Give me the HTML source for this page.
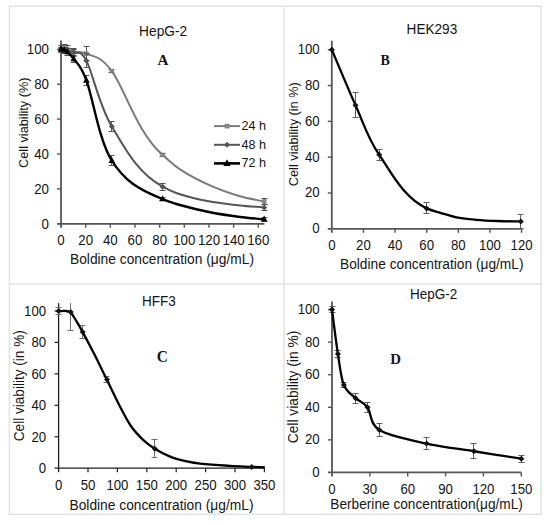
<!DOCTYPE html>
<html><head><meta charset="utf-8"><style>
html,body{margin:0;padding:0;background:#fff;}
svg{display:block;}
text{font-family:"Liberation Sans", sans-serif;fill:#141414;}
</style></head><body>
<svg width="550" height="525" viewBox="0 0 550 525">
<rect width="550" height="525" fill="#fff"/>
<g stroke="#e2e2e2" stroke-width="1.5" fill="none">
<rect x="9.4" y="6.3" width="531.7" height="507.9"/>
<line x1="284" y1="6.3" x2="284" y2="514.2"/>
<line x1="9.4" y1="284.0" x2="541.1" y2="284.0"/>
</g>
<line x1="61.00" y1="40.58" x2="61.00" y2="227.80" stroke="#555555" stroke-width="1.8"/>
<line x1="57.00" y1="223.80" x2="264.45" y2="223.80" stroke="#555555" stroke-width="1.8"/>
<text transform="translate(49.00,228.80) scale(1,1.050)" font-size="13.3" text-anchor="end">0</text>
<line x1="57.00" y1="188.90" x2="61.00" y2="188.90" stroke="#555555" stroke-width="1.4"/>
<text transform="translate(49.00,193.90) scale(1,1.050)" font-size="13.3" text-anchor="end">20</text>
<line x1="57.00" y1="154.00" x2="61.00" y2="154.00" stroke="#555555" stroke-width="1.4"/>
<text transform="translate(49.00,159.00) scale(1,1.050)" font-size="13.3" text-anchor="end">40</text>
<line x1="57.00" y1="119.10" x2="61.00" y2="119.10" stroke="#555555" stroke-width="1.4"/>
<text transform="translate(49.00,124.10) scale(1,1.050)" font-size="13.3" text-anchor="end">60</text>
<line x1="57.00" y1="84.20" x2="61.00" y2="84.20" stroke="#555555" stroke-width="1.4"/>
<text transform="translate(49.00,89.20) scale(1,1.050)" font-size="13.3" text-anchor="end">80</text>
<line x1="57.00" y1="49.30" x2="61.00" y2="49.30" stroke="#555555" stroke-width="1.4"/>
<text transform="translate(49.00,54.30) scale(1,1.050)" font-size="13.3" text-anchor="end">100</text>
<text transform="translate(61.00,244.60) scale(1,1.050)" font-size="13.3" text-anchor="middle">0</text>
<line x1="85.66" y1="223.80" x2="85.66" y2="227.80" stroke="#555555" stroke-width="1.4"/>
<text transform="translate(85.66,244.60) scale(1,1.050)" font-size="13.3" text-anchor="middle">20</text>
<line x1="110.32" y1="223.80" x2="110.32" y2="227.80" stroke="#555555" stroke-width="1.4"/>
<text transform="translate(110.32,244.60) scale(1,1.050)" font-size="13.3" text-anchor="middle">40</text>
<line x1="134.98" y1="223.80" x2="134.98" y2="227.80" stroke="#555555" stroke-width="1.4"/>
<text transform="translate(134.98,244.60) scale(1,1.050)" font-size="13.3" text-anchor="middle">60</text>
<line x1="159.64" y1="223.80" x2="159.64" y2="227.80" stroke="#555555" stroke-width="1.4"/>
<text transform="translate(159.64,244.60) scale(1,1.050)" font-size="13.3" text-anchor="middle">80</text>
<line x1="184.30" y1="223.80" x2="184.30" y2="227.80" stroke="#555555" stroke-width="1.4"/>
<text transform="translate(184.30,244.60) scale(1,1.050)" font-size="13.3" text-anchor="middle">100</text>
<line x1="208.96" y1="223.80" x2="208.96" y2="227.80" stroke="#555555" stroke-width="1.4"/>
<text transform="translate(208.96,244.60) scale(1,1.050)" font-size="13.3" text-anchor="middle">120</text>
<line x1="233.62" y1="223.80" x2="233.62" y2="227.80" stroke="#555555" stroke-width="1.4"/>
<text transform="translate(233.62,244.60) scale(1,1.050)" font-size="13.3" text-anchor="middle">140</text>
<line x1="258.28" y1="223.80" x2="258.28" y2="227.80" stroke="#555555" stroke-width="1.4"/>
<text transform="translate(258.28,244.60) scale(1,1.050)" font-size="13.3" text-anchor="middle">160</text>
<text transform="translate(139.10,35.60) scale(1,1.050)" font-size="13.75">HepG-2</text>
<text transform="translate(157.40,65.40) scale(0.970,1)" font-size="15.6" style='font-family:"Liberation Serif", serif;font-weight:bold'>A</text>
<text transform="translate(70.00,264.40) scale(1,1.050)" font-size="13.7" textLength="184.00" lengthAdjust="spacingAndGlyphs">Boldine concentration (μg/mL)</text>
<text transform="translate(28.00,122.70) rotate(-90)" font-size="12.8" text-anchor="middle" textLength="90.50" lengthAdjust="spacingAndGlyphs">Cell viability (%)</text>
<path d="M58.50,45.50 h6 M61.50,45.50 V52.50 M58.50,52.50 h6" stroke="#555" stroke-width="1" fill="none"/>
<path d="M61.50,44.50 h6 M64.50,44.50 V51.50 M61.50,51.50 h6" stroke="#555" stroke-width="1" fill="none"/>
<path d="M64.50,45.50 h6 M67.50,45.50 V52.50 M64.50,52.50 h6" stroke="#555" stroke-width="1" fill="none"/>
<path d="M70.50,48.50 h6 M73.50,48.50 V55.50 M70.50,55.50 h6" stroke="#555" stroke-width="1" fill="none"/>
<path d="M83.50,46.50 h6 M86.50,46.50 V60.50 M83.50,60.50 h6" stroke="#555" stroke-width="1" fill="none"/>
<path d="M108.50,69.50 h6 M111.50,69.50 V72.50 M108.50,72.50 h6" stroke="#555" stroke-width="1" fill="none"/>
<path d="M159.50,153.50 h6 M162.50,153.50 V156.50 M159.50,156.50 h6" stroke="#555" stroke-width="1" fill="none"/>
<path d="M261.50,198.50 h6 M264.50,198.50 V204.50 M261.50,204.50 h6" stroke="#555" stroke-width="1" fill="none"/>
<path d="M61.00,49.30 C61.53,49.01 63.16,47.56 64.21,47.56 C65.25,47.56 65.71,48.57 67.29,49.30 C68.87,50.03 70.51,51.19 73.70,51.92 C76.89,52.64 80.05,50.46 86.40,53.66 C92.75,56.86 99.10,54.24 111.80,71.11 C124.50,87.98 137.20,133.15 162.60,154.87 C168.40,159.83 174.20,165.56 180.00,169.30 C190.00,175.74 200.00,180.90 210.00,185.40 C220.00,189.90 230.00,193.34 240.00,196.30 C248.07,198.69 256.13,199.74 264.20,201.46" stroke="#7a7a7a" stroke-width="2.0" fill="none" stroke-linejoin="round"/>
<rect x="59.30" y="47.60" width="3.40" height="3.40" fill="#8c8c8c" stroke="#7a7a7a" stroke-width="1"/>
<rect x="62.51" y="45.86" width="3.40" height="3.40" fill="#8c8c8c" stroke="#7a7a7a" stroke-width="1"/>
<rect x="65.59" y="47.60" width="3.40" height="3.40" fill="#8c8c8c" stroke="#7a7a7a" stroke-width="1"/>
<rect x="72.00" y="50.22" width="3.40" height="3.40" fill="#8c8c8c" stroke="#7a7a7a" stroke-width="1"/>
<rect x="84.70" y="51.96" width="3.40" height="3.40" fill="#8c8c8c" stroke="#7a7a7a" stroke-width="1"/>
<rect x="110.10" y="69.41" width="3.40" height="3.40" fill="#8c8c8c" stroke="#7a7a7a" stroke-width="1"/>
<rect x="160.90" y="153.17" width="3.40" height="3.40" fill="#8c8c8c" stroke="#7a7a7a" stroke-width="1"/>
<rect x="262.50" y="199.76" width="3.40" height="3.40" fill="#8c8c8c" stroke="#7a7a7a" stroke-width="1"/>
<path d="M58.50,47.50 h6 M61.50,47.50 V51.50 M58.50,51.50 h6" stroke="#555" stroke-width="1" fill="none"/>
<path d="M61.50,48.50 h6 M64.50,48.50 V53.50 M61.50,53.50 h6" stroke="#555" stroke-width="1" fill="none"/>
<path d="M64.50,48.50 h6 M67.50,48.50 V53.50 M64.50,53.50 h6" stroke="#555" stroke-width="1" fill="none"/>
<path d="M70.50,49.50 h6 M73.50,49.50 V56.50 M70.50,56.50 h6" stroke="#555" stroke-width="1" fill="none"/>
<path d="M83.50,53.50 h6 M86.50,53.50 V67.50 M83.50,67.50 h6" stroke="#555" stroke-width="1" fill="none"/>
<path d="M108.50,121.50 h6 M111.50,121.50 V131.50 M108.50,131.50 h6" stroke="#555" stroke-width="1" fill="none"/>
<path d="M159.50,183.50 h6 M162.50,183.50 V190.50 M159.50,190.50 h6" stroke="#555" stroke-width="1" fill="none"/>
<path d="M261.50,204.50 h6 M264.50,204.50 V210.50 M261.50,210.50 h6" stroke="#555" stroke-width="1" fill="none"/>
<path d="M61.00,49.30 C61.53,49.59 63.16,50.75 64.21,51.05 C65.25,51.34 65.71,50.75 67.29,51.05 C68.87,51.34 70.51,51.19 73.70,52.79 C76.89,54.39 80.05,48.37 86.40,60.64 C92.75,72.92 99.10,105.43 111.80,126.43 C124.50,147.43 137.20,173.14 162.60,186.63 C168.40,189.71 174.20,192.47 180.00,194.30 C190.00,197.46 200.00,199.75 210.00,201.60 C220.00,203.45 230.00,204.33 240.00,205.40 C248.07,206.26 256.13,206.73 264.20,207.40" stroke="#555555" stroke-width="2.0" fill="none" stroke-linejoin="round"/>
<path d="M61.00,46.30 l3.00,3.00 l-3.00,3.00 l-3.00,-3.00 z" fill="#555555"/>
<path d="M64.21,48.05 l3.00,3.00 l-3.00,3.00 l-3.00,-3.00 z" fill="#555555"/>
<path d="M67.29,48.05 l3.00,3.00 l-3.00,3.00 l-3.00,-3.00 z" fill="#555555"/>
<path d="M73.70,49.79 l3.00,3.00 l-3.00,3.00 l-3.00,-3.00 z" fill="#555555"/>
<path d="M86.40,57.64 l3.00,3.00 l-3.00,3.00 l-3.00,-3.00 z" fill="#555555"/>
<path d="M111.80,123.43 l3.00,3.00 l-3.00,3.00 l-3.00,-3.00 z" fill="#555555"/>
<path d="M162.60,183.63 l3.00,3.00 l-3.00,3.00 l-3.00,-3.00 z" fill="#555555"/>
<path d="M264.20,204.40 l3.00,3.00 l-3.00,3.00 l-3.00,-3.00 z" fill="#555555"/>
<path d="M58.50,47.50 h6 M61.50,47.50 V51.50 M58.50,51.50 h6" stroke="#555" stroke-width="1" fill="none"/>
<path d="M61.50,47.50 h6 M64.50,47.50 V52.50 M61.50,52.50 h6" stroke="#555" stroke-width="1" fill="none"/>
<path d="M64.50,48.50 h6 M67.50,48.50 V55.50 M64.50,55.50 h6" stroke="#555" stroke-width="1" fill="none"/>
<path d="M70.50,55.50 h6 M73.50,55.50 V62.50 M70.50,62.50 h6" stroke="#555" stroke-width="1" fill="none"/>
<path d="M83.50,75.50 h6 M86.50,75.50 V85.50 M83.50,85.50 h6" stroke="#555" stroke-width="1" fill="none"/>
<path d="M108.50,155.50 h6 M111.50,155.50 V165.50 M108.50,165.50 h6" stroke="#555" stroke-width="1" fill="none"/>
<path d="M159.50,197.50 h6 M162.50,197.50 V200.50 M159.50,200.50 h6" stroke="#555" stroke-width="1" fill="none"/>
<path d="M261.50,217.50 h6 M264.50,217.50 V221.50 M261.50,221.50 h6" stroke="#555" stroke-width="1" fill="none"/>
<path d="M61.00,49.30 C61.53,49.45 63.16,49.74 64.21,50.17 C65.25,50.61 65.71,50.46 67.29,51.92 C68.87,53.37 70.51,54.16 73.70,58.90 C76.89,63.64 80.05,63.41 86.40,80.36 C92.75,97.32 99.10,140.85 111.80,160.63 C124.50,180.41 137.20,189.25 162.60,199.02 C168.40,201.25 174.20,203.38 180.00,205.00 C190.00,207.80 200.00,210.30 210.00,212.30 C220.00,214.30 230.00,215.72 240.00,217.00 C248.07,218.04 256.13,218.51 264.20,219.26" stroke="#000000" stroke-width="2.4" fill="none" stroke-linejoin="round"/>
<path d="M61.00,45.51 l3.30,6.10 h-6.60 z" fill="#000000"/>
<path d="M64.21,46.38 l3.30,6.10 h-6.60 z" fill="#000000"/>
<path d="M67.29,48.12 l3.30,6.10 h-6.60 z" fill="#000000"/>
<path d="M73.70,55.10 l3.30,6.10 h-6.60 z" fill="#000000"/>
<path d="M86.40,76.57 l3.30,6.10 h-6.60 z" fill="#000000"/>
<path d="M111.80,156.84 l3.30,6.10 h-6.60 z" fill="#000000"/>
<path d="M162.60,195.23 l3.30,6.10 h-6.60 z" fill="#000000"/>
<path d="M264.20,215.47 l3.30,6.10 h-6.60 z" fill="#000000"/>
<line x1="331.80" y1="40.75" x2="331.80" y2="232.80" stroke="#555555" stroke-width="1.8"/>
<line x1="327.80" y1="228.80" x2="522.53" y2="228.80" stroke="#555555" stroke-width="1.8"/>
<text transform="translate(319.70,233.26) scale(1,1.050)" font-size="13.2" text-anchor="end">0</text>
<line x1="327.80" y1="192.98" x2="331.80" y2="192.98" stroke="#555555" stroke-width="1.4"/>
<text transform="translate(319.70,197.44) scale(1,1.050)" font-size="13.2" text-anchor="end">20</text>
<line x1="327.80" y1="157.16" x2="331.80" y2="157.16" stroke="#555555" stroke-width="1.4"/>
<text transform="translate(319.70,161.62) scale(1,1.050)" font-size="13.2" text-anchor="end">40</text>
<line x1="327.80" y1="121.34" x2="331.80" y2="121.34" stroke="#555555" stroke-width="1.4"/>
<text transform="translate(319.70,125.80) scale(1,1.050)" font-size="13.2" text-anchor="end">60</text>
<line x1="327.80" y1="85.52" x2="331.80" y2="85.52" stroke="#555555" stroke-width="1.4"/>
<text transform="translate(319.70,89.98) scale(1,1.050)" font-size="13.2" text-anchor="end">80</text>
<line x1="327.80" y1="49.70" x2="331.80" y2="49.70" stroke="#555555" stroke-width="1.4"/>
<text transform="translate(319.70,54.16) scale(1,1.050)" font-size="13.2" text-anchor="end">100</text>
<text transform="translate(331.80,249.80) scale(1,1.050)" font-size="13.2" text-anchor="middle">0</text>
<line x1="363.43" y1="228.80" x2="363.43" y2="232.80" stroke="#555555" stroke-width="1.4"/>
<text transform="translate(363.43,249.80) scale(1,1.050)" font-size="13.2" text-anchor="middle">20</text>
<line x1="395.06" y1="228.80" x2="395.06" y2="232.80" stroke="#555555" stroke-width="1.4"/>
<text transform="translate(395.06,249.80) scale(1,1.050)" font-size="13.2" text-anchor="middle">40</text>
<line x1="426.69" y1="228.80" x2="426.69" y2="232.80" stroke="#555555" stroke-width="1.4"/>
<text transform="translate(426.69,249.80) scale(1,1.050)" font-size="13.2" text-anchor="middle">60</text>
<line x1="458.32" y1="228.80" x2="458.32" y2="232.80" stroke="#555555" stroke-width="1.4"/>
<text transform="translate(458.32,249.80) scale(1,1.050)" font-size="13.2" text-anchor="middle">80</text>
<line x1="489.95" y1="228.80" x2="489.95" y2="232.80" stroke="#555555" stroke-width="1.4"/>
<text transform="translate(489.95,249.80) scale(1,1.050)" font-size="13.2" text-anchor="middle">100</text>
<line x1="521.58" y1="228.80" x2="521.58" y2="232.80" stroke="#555555" stroke-width="1.4"/>
<text transform="translate(521.58,249.80) scale(1,1.050)" font-size="13.2" text-anchor="middle">120</text>
<text transform="translate(406.60,33.80) scale(1,1.050)" font-size="13.6">HEK293</text>
<text transform="translate(380.60,65.00) scale(0.930,1)" font-size="15" style='font-family:"Liberation Serif", serif;font-weight:bold'>B</text>
<text transform="translate(340.00,268.90) scale(1,1.050)" font-size="13.7" textLength="183.50" lengthAdjust="spacingAndGlyphs">Boldine concentration (μg/mL)</text>
<text transform="translate(298.00,134.20) rotate(-90)" font-size="13.3" text-anchor="middle" textLength="104.00" lengthAdjust="spacingAndGlyphs">Cell viability (in %)</text>
<path d="M352.50,92.50 h6 M355.50,92.50 V117.50 M352.50,117.50 h6" stroke="#5e5e5e" stroke-width="1" fill="none"/>
<path d="M376.50,149.50 h6 M379.50,149.50 V160.50 M376.50,160.50 h6" stroke="#5e5e5e" stroke-width="1" fill="none"/>
<path d="M423.50,202.50 h6 M426.50,202.50 V213.50 M423.50,213.50 h6" stroke="#5e5e5e" stroke-width="1" fill="none"/>
<path d="M517.50,214.50 h6 M520.50,214.50 V228.50 M517.50,228.50 h6" stroke="#5e5e5e" stroke-width="1" fill="none"/>
<path d="M331.80,49.70 C335.75,58.95 347.62,87.70 355.52,105.22 C363.43,122.74 367.38,137.64 379.25,154.83 C391.11,172.03 403.10,197.28 426.69,208.38 C431.23,210.52 435.76,211.45 440.30,212.80 C446.20,214.56 452.10,216.54 458.00,217.70 C464.00,218.88 470.00,219.31 476.00,219.80 C483.33,220.41 490.67,220.73 498.00,221.00 C505.60,221.28 513.19,221.30 520.79,221.46" stroke="#000000" stroke-width="2.3" fill="none" stroke-linejoin="round"/>
<path d="M331.80,46.70 l3.00,3.00 l-3.00,3.00 l-3.00,-3.00 z" fill="#111"/>
<path d="M355.52,102.22 l3.00,3.00 l-3.00,3.00 l-3.00,-3.00 z" fill="#111"/>
<path d="M379.25,151.83 l3.00,3.00 l-3.00,3.00 l-3.00,-3.00 z" fill="#111"/>
<path d="M426.69,205.38 l3.00,3.00 l-3.00,3.00 l-3.00,-3.00 z" fill="#111"/>
<path d="M520.79,218.46 l3.00,3.00 l-3.00,3.00 l-3.00,-3.00 z" fill="#111"/>
<line x1="58.60" y1="303.14" x2="58.60" y2="472.20" stroke="#1c1c1c" stroke-width="1.3"/>
<line x1="54.60" y1="468.20" x2="264.40" y2="468.20" stroke="#1c1c1c" stroke-width="1.3"/>
<text transform="translate(46.10,473.16) scale(1,1.050)" font-size="13.2" text-anchor="end">0</text>
<line x1="54.60" y1="436.76" x2="58.60" y2="436.76" stroke="#1c1c1c" stroke-width="1.2"/>
<text transform="translate(46.10,441.72) scale(1,1.050)" font-size="13.2" text-anchor="end">20</text>
<line x1="54.60" y1="405.32" x2="58.60" y2="405.32" stroke="#1c1c1c" stroke-width="1.2"/>
<text transform="translate(46.10,410.28) scale(1,1.050)" font-size="13.2" text-anchor="end">40</text>
<line x1="54.60" y1="373.88" x2="58.60" y2="373.88" stroke="#1c1c1c" stroke-width="1.2"/>
<text transform="translate(46.10,378.84) scale(1,1.050)" font-size="13.2" text-anchor="end">60</text>
<line x1="54.60" y1="342.44" x2="58.60" y2="342.44" stroke="#1c1c1c" stroke-width="1.2"/>
<text transform="translate(46.10,347.40) scale(1,1.050)" font-size="13.2" text-anchor="end">80</text>
<line x1="54.60" y1="311.00" x2="58.60" y2="311.00" stroke="#1c1c1c" stroke-width="1.2"/>
<text transform="translate(46.10,315.96) scale(1,1.050)" font-size="13.2" text-anchor="end">100</text>
<text transform="translate(58.60,489.80) scale(1,1.050)" font-size="13.2" text-anchor="middle">0</text>
<line x1="88.00" y1="468.20" x2="88.00" y2="472.20" stroke="#1c1c1c" stroke-width="1.2"/>
<text transform="translate(88.00,489.80) scale(1,1.050)" font-size="13.2" text-anchor="middle">50</text>
<line x1="117.40" y1="468.20" x2="117.40" y2="472.20" stroke="#1c1c1c" stroke-width="1.2"/>
<text transform="translate(117.40,489.80) scale(1,1.050)" font-size="13.2" text-anchor="middle">100</text>
<line x1="146.80" y1="468.20" x2="146.80" y2="472.20" stroke="#1c1c1c" stroke-width="1.2"/>
<text transform="translate(146.80,489.80) scale(1,1.050)" font-size="13.2" text-anchor="middle">150</text>
<line x1="176.20" y1="468.20" x2="176.20" y2="472.20" stroke="#1c1c1c" stroke-width="1.2"/>
<text transform="translate(176.20,489.80) scale(1,1.050)" font-size="13.2" text-anchor="middle">200</text>
<line x1="205.60" y1="468.20" x2="205.60" y2="472.20" stroke="#1c1c1c" stroke-width="1.2"/>
<text transform="translate(205.60,489.80) scale(1,1.050)" font-size="13.2" text-anchor="middle">250</text>
<line x1="235.00" y1="468.20" x2="235.00" y2="472.20" stroke="#1c1c1c" stroke-width="1.2"/>
<text transform="translate(235.00,489.80) scale(1,1.050)" font-size="13.2" text-anchor="middle">300</text>
<line x1="264.40" y1="468.20" x2="264.40" y2="472.20" stroke="#1c1c1c" stroke-width="1.2"/>
<text transform="translate(264.40,489.80) scale(1,1.050)" font-size="13.2" text-anchor="middle">350</text>
<text transform="translate(142.00,305.50) scale(1,1.050)" font-size="13.5">HFF3</text>
<text transform="translate(156.70,362.30) scale(0.950,1)" font-size="16.2" style='font-family:"Liberation Serif", serif;font-weight:bold'>C</text>
<text transform="translate(69.50,509.60) scale(1,1.050)" font-size="13.7" textLength="184.00" lengthAdjust="spacingAndGlyphs">Boldine concentration (μg/mL)</text>
<text transform="translate(24.30,385.70) rotate(-90)" font-size="14.0" text-anchor="middle" textLength="111.00" lengthAdjust="spacingAndGlyphs">Cell viability (in %)</text>
<path d="M55.50,307.50 h6 M58.50,307.50 V314.50 M55.50,314.50 h6" stroke="#707070" stroke-width="1" fill="none"/>
<path d="M70.50,303.14 V330.50 M67.50,330.50 h6" stroke="#707070" stroke-width="1" fill="none"/>
<path d="M79.50,325.50 h6 M82.50,325.50 V338.50 M79.50,338.50 h6" stroke="#707070" stroke-width="1" fill="none"/>
<path d="M103.50,376.50 h6 M106.50,376.50 V382.50 M103.50,382.50 h6" stroke="#707070" stroke-width="1" fill="none"/>
<path d="M151.50,439.50 h6 M154.50,439.50 V457.50 M151.50,457.50 h6" stroke="#707070" stroke-width="1" fill="none"/>
<path d="M248.50,466.50 h6 M251.50,466.50 V467.50 M248.50,467.50 h6" stroke="#707070" stroke-width="1" fill="none"/>
<path d="M58.60,311.20 C60.57,311.20 62.53,310.67 64.50,310.90 C66.57,311.14 68.63,310.90 70.70,312.60 C72.40,314.00 74.10,317.44 75.80,320.20 C78.10,323.94 80.40,327.88 82.70,332.10 C86.50,339.08 90.30,346.31 94.10,353.80 C98.33,362.14 102.57,370.96 106.80,379.60 C110.77,387.69 114.73,396.36 118.70,404.00 C122.77,411.83 126.83,420.03 130.90,426.00 C134.97,431.97 139.03,435.94 143.10,439.80 C147.00,443.50 150.90,446.28 154.80,448.70 C160.10,451.98 165.40,454.72 170.70,456.90 C175.27,458.78 179.83,459.86 184.40,460.90 C189.60,462.09 194.80,463.03 200.00,463.60 C210.00,464.70 220.00,465.28 230.00,465.90 C237.23,466.35 244.47,466.51 251.70,466.80 C256.10,466.98 260.50,467.13 264.90,467.30" stroke="#000000" stroke-width="2.3" fill="none" stroke-linejoin="round"/>
<path d="M58.60,308.00 l3.00,3.00 l-3.00,3.00 l-3.00,-3.00 z" fill="#111"/>
<path d="M70.71,308.94 l3.00,3.00 l-3.00,3.00 l-3.00,-3.00 z" fill="#111"/>
<path d="M82.71,328.91 l3.00,3.00 l-3.00,3.00 l-3.00,-3.00 z" fill="#111"/>
<path d="M106.99,376.54 l3.00,3.00 l-3.00,3.00 l-3.00,-3.00 z" fill="#111"/>
<path d="M154.80,445.71 l3.00,3.00 l-3.00,3.00 l-3.00,-3.00 z" fill="#111"/>
<path d="M251.70,463.94 l3.00,3.00 l-3.00,3.00 l-3.00,-3.00 z" fill="#111"/>
<line x1="332.00" y1="301.46" x2="332.00" y2="476.40" stroke="#555555" stroke-width="1.8"/>
<line x1="328.00" y1="472.40" x2="521.30" y2="472.40" stroke="#555555" stroke-width="1.8"/>
<text transform="translate(319.70,476.86) scale(1,1.050)" font-size="13.2" text-anchor="end">0</text>
<line x1="328.00" y1="439.84" x2="332.00" y2="439.84" stroke="#555555" stroke-width="1.4"/>
<text transform="translate(319.70,444.30) scale(1,1.050)" font-size="13.2" text-anchor="end">20</text>
<line x1="328.00" y1="407.28" x2="332.00" y2="407.28" stroke="#555555" stroke-width="1.4"/>
<text transform="translate(319.70,411.74) scale(1,1.050)" font-size="13.2" text-anchor="end">40</text>
<line x1="328.00" y1="374.72" x2="332.00" y2="374.72" stroke="#555555" stroke-width="1.4"/>
<text transform="translate(319.70,379.18) scale(1,1.050)" font-size="13.2" text-anchor="end">60</text>
<line x1="328.00" y1="342.16" x2="332.00" y2="342.16" stroke="#555555" stroke-width="1.4"/>
<text transform="translate(319.70,346.62) scale(1,1.050)" font-size="13.2" text-anchor="end">80</text>
<line x1="328.00" y1="309.60" x2="332.00" y2="309.60" stroke="#555555" stroke-width="1.4"/>
<text transform="translate(319.70,314.06) scale(1,1.050)" font-size="13.2" text-anchor="end">100</text>
<text transform="translate(332.00,493.90) scale(1,1.050)" font-size="13.2" text-anchor="middle">0</text>
<line x1="369.86" y1="472.40" x2="369.86" y2="476.40" stroke="#555555" stroke-width="1.4"/>
<text transform="translate(369.86,493.90) scale(1,1.050)" font-size="13.2" text-anchor="middle">30</text>
<line x1="407.72" y1="472.40" x2="407.72" y2="476.40" stroke="#555555" stroke-width="1.4"/>
<text transform="translate(407.72,493.90) scale(1,1.050)" font-size="13.2" text-anchor="middle">60</text>
<line x1="445.58" y1="472.40" x2="445.58" y2="476.40" stroke="#555555" stroke-width="1.4"/>
<text transform="translate(445.58,493.90) scale(1,1.050)" font-size="13.2" text-anchor="middle">90</text>
<line x1="483.44" y1="472.40" x2="483.44" y2="476.40" stroke="#555555" stroke-width="1.4"/>
<text transform="translate(483.44,493.90) scale(1,1.050)" font-size="13.2" text-anchor="middle">120</text>
<line x1="521.30" y1="472.40" x2="521.30" y2="476.40" stroke="#555555" stroke-width="1.4"/>
<text transform="translate(521.30,493.90) scale(1,1.050)" font-size="13.2" text-anchor="middle">150</text>
<text transform="translate(410.00,299.20) scale(1,1.050)" font-size="13.5">HepG-2</text>
<text transform="translate(390.30,363.80) scale(0.950,1)" font-size="15.6" style='font-family:"Liberation Serif", serif;font-weight:bold'>D</text>
<text transform="translate(330.30,509.20) scale(1,1.050)" font-size="13.7" textLength="192.60" lengthAdjust="spacingAndGlyphs">Berberine concentration(μg/mL)</text>
<text transform="translate(298.30,387.00) rotate(-90)" font-size="14.1" text-anchor="middle" textLength="112.50" lengthAdjust="spacingAndGlyphs">Cell viability (in %)</text>
<path d="M329.50,306.50 h6 M332.50,306.50 V312.50 M329.50,312.50 h6" stroke="#5e5e5e" stroke-width="1" fill="none"/>
<path d="M334.50,350.50 h6 M337.50,350.50 V357.50 M334.50,357.50 h6" stroke="#5e5e5e" stroke-width="1" fill="none"/>
<path d="M340.50,382.50 h6 M343.50,382.50 V387.50 M340.50,387.50 h6" stroke="#5e5e5e" stroke-width="1" fill="none"/>
<path d="M352.50,393.50 h6 M355.50,393.50 V403.50 M352.50,403.50 h6" stroke="#5e5e5e" stroke-width="1" fill="none"/>
<path d="M364.50,402.50 h6 M367.50,402.50 V412.50 M364.50,412.50 h6" stroke="#5e5e5e" stroke-width="1" fill="none"/>
<path d="M376.50,423.50 h6 M379.50,423.50 V436.50 M376.50,436.50 h6" stroke="#5e5e5e" stroke-width="1" fill="none"/>
<path d="M423.50,437.50 h6 M426.50,437.50 V449.50 M423.50,449.50 h6" stroke="#5e5e5e" stroke-width="1" fill="none"/>
<path d="M470.50,443.50 h6 M473.50,443.50 V458.50 M470.50,458.50 h6" stroke="#5e5e5e" stroke-width="1" fill="none"/>
<path d="M518.50,455.50 h6 M521.50,455.50 V462.50 M518.50,462.50 h6" stroke="#5e5e5e" stroke-width="1" fill="none"/>
<path d="M332.00,309.60 C332.99,317.01 335.95,341.48 337.93,354.04 C339.91,366.61 340.91,377.62 343.86,384.98 C346.82,392.33 351.73,394.45 355.66,398.16 C359.60,401.88 363.52,401.99 367.46,407.28 C371.41,412.57 369.46,423.86 379.32,429.91 C389.19,435.96 410.88,440.03 426.65,443.58 C442.42,447.14 458.20,448.71 473.98,451.24 C489.75,453.76 513.41,457.48 521.30,458.72" stroke="#000000" stroke-width="2.3" fill="none" stroke-linejoin="round"/>
<path d="M332.00,306.60 l3.00,3.00 l-3.00,3.00 l-3.00,-3.00 z" fill="#111"/>
<path d="M337.93,351.04 l3.00,3.00 l-3.00,3.00 l-3.00,-3.00 z" fill="#111"/>
<path d="M343.86,381.98 l3.00,3.00 l-3.00,3.00 l-3.00,-3.00 z" fill="#111"/>
<path d="M355.66,395.16 l3.00,3.00 l-3.00,3.00 l-3.00,-3.00 z" fill="#111"/>
<path d="M367.46,404.28 l3.00,3.00 l-3.00,3.00 l-3.00,-3.00 z" fill="#111"/>
<path d="M379.32,426.91 l3.00,3.00 l-3.00,3.00 l-3.00,-3.00 z" fill="#111"/>
<path d="M426.65,440.58 l3.00,3.00 l-3.00,3.00 l-3.00,-3.00 z" fill="#111"/>
<path d="M473.98,448.24 l3.00,3.00 l-3.00,3.00 l-3.00,-3.00 z" fill="#111"/>
<path d="M521.30,455.72 l3.00,3.00 l-3.00,3.00 l-3.00,-3.00 z" fill="#111"/>
<line x1="214" y1="126.10" x2="240" y2="126.10" stroke="#7a7a7a" stroke-width="2.0"/>
<rect x="225.20" y="124.30" width="3.60" height="3.60" fill="#8c8c8c" stroke="#7a7a7a" stroke-width="1"/>
<text transform="translate(241.50,130.00) scale(1,1.050)" font-size="12.6">24 h</text>
<line x1="214" y1="144.80" x2="240" y2="144.80" stroke="#555555" stroke-width="2.0"/>
<path d="M227.00,141.80 l3.00,3.00 l-3.00,3.00 l-3.00,-3.00 z" fill="#555555"/>
<text transform="translate(241.50,148.70) scale(1,1.050)" font-size="12.6">48 h</text>
<line x1="214" y1="163.40" x2="240" y2="163.40" stroke="#000000" stroke-width="2.6"/>
<path d="M227.00,159.26 l3.60,6.66 h-7.20 z" fill="#000000"/>
<text transform="translate(241.50,167.30) scale(1,1.050)" font-size="12.6">72 h</text>
</svg>
</body></html>
